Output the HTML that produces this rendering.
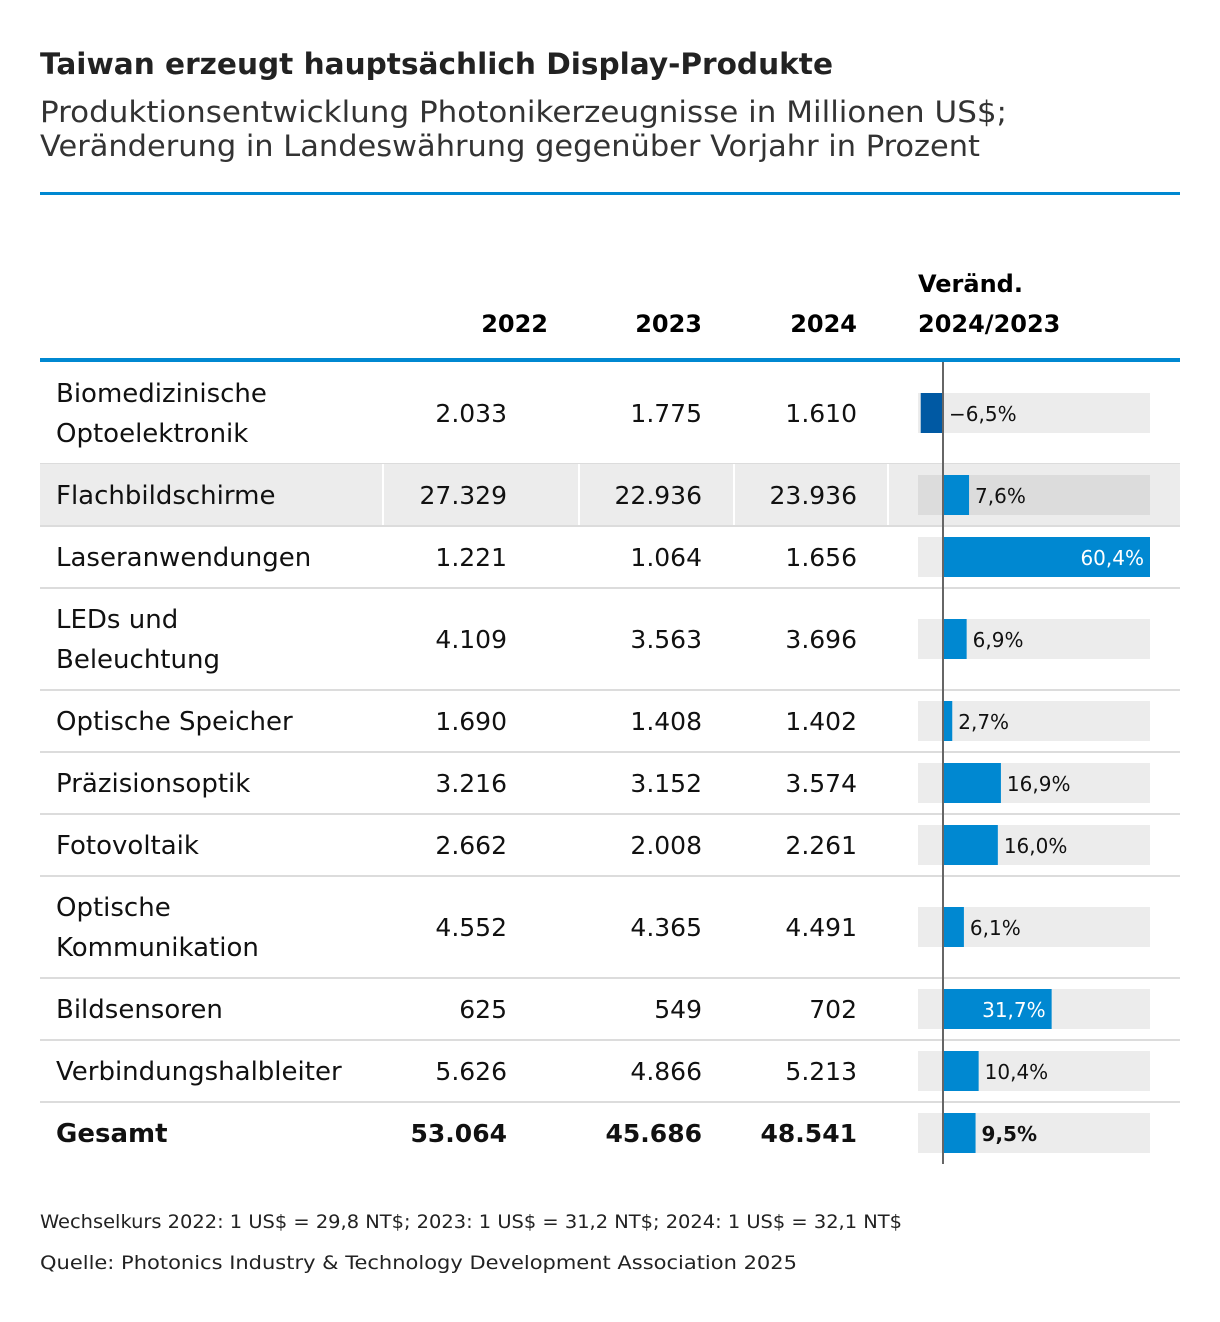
<!DOCTYPE html>
<html><head><meta charset="utf-8"><style>
body{margin:0;background:#fff;width:1220px;height:1318px;overflow:hidden;font-family:"DejaVu Sans",sans-serif}
svg text{font-family:"DejaVu Sans",sans-serif}
</style></head><body>
<svg id="c" width="1220" height="1318" xmlns="http://www.w3.org/2000/svg">
<text x="40" y="74" font-size="29" font-weight="bold" fill="#222" textLength="793" lengthAdjust="spacingAndGlyphs">Taiwan erzeugt hauptsächlich Display-Produkte</text>
<text x="40" y="122" font-size="29" fill="#333" textLength="967" lengthAdjust="spacingAndGlyphs">Produktionsentwicklung Photonikerzeugnisse in Millionen US$;</text>
<text x="40" y="156" font-size="29" fill="#333" textLength="940" lengthAdjust="spacingAndGlyphs">Veränderung in Landeswährung gegenüber Vorjahr in Prozent</text>
<rect x="40" y="192" width="1140" height="3" fill="#0088d1"/>
<text x="548" y="332" font-size="24" font-weight="bold" text-anchor="end">2022</text>
<text x="702" y="332" font-size="24" font-weight="bold" text-anchor="end">2023</text>
<text x="857" y="332" font-size="24" font-weight="bold" text-anchor="end">2024</text>
<text x="918" y="292" font-size="24" font-weight="bold">Veränd.</text>
<text x="918" y="332" font-size="24" font-weight="bold">2024/2023</text>
<rect x="40" y="358" width="1140" height="4" fill="#0088d1"/>
<g id="rows"></g>
<line x1="943" y1="362" x2="943" y2="1164" stroke="#666" stroke-width="2"/>
<text x="40" y="1228" font-size="19" fill="#222" textLength="862" lengthAdjust="spacingAndGlyphs">Wechselkurs 2022: 1 US$ = 29,8 NT$; 2023: 1 US$ = 31,2 NT$; 2024: 1 US$ = 32,1 NT$</text>
<text x="40" y="1269" font-size="19" fill="#222" textLength="757" lengthAdjust="spacingAndGlyphs">Quelle: Photonics Industry &amp; Technology Development Association 2025</text>
</svg>
<script>
const categories=[["Biomedizinische","Optoelektronik"],["Flachbildschirme"],["Laseranwendungen"],["LEDs und","Beleuchtung"],["Optische Speicher"],["Präzisionsoptik"],["Fotovoltaik"],["Optische","Kommunikation"],["Bildsensoren"],["Verbindungshalbleiter"],["Gesamt"]];
const v2022=["2.033","27.329","1.221","4.109","1.690","3.216","2.662","4.552","625","5.626","53.064"];
const v2023=["1.775","22.936","1.064","3.563","1.408","3.152","2.008","4.365","549","4.866","45.686"];
const v2024=["1.610","23.936","1.656","3.696","1.402","3.574","2.261","4.491","702","5.213","48.541"];
const change=[-6.5,7.6,60.4,6.9,2.7,16.9,16.0,6.1,31.7,10.4,9.5];
const NS="http://www.w3.org/2000/svg";
const g=document.getElementById('rows');
const x0=943,xMax=1150,maxV=60.4;
const xs=v=>x0+v*(xMax-x0)/maxV;
function el(t,a,txt){const e=document.createElementNS(NS,t);for(const k in a)e.setAttribute(k,a[k]);if(txt!=null)e.textContent=txt;g.appendChild(e);return e;}
let y=362;
categories.forEach((cat,i)=>{
 const h=cat.length>1?102:62;
 const bold=i===categories.length-1;
 const fw=bold?"bold":"normal";
 if(i===1){const r=el('rect',{x:40,y:y,width:1140,height:h,fill:"#ececec"});
  
  
  [382,578,733,887].forEach(sx=>{const l=el('rect',{x:sx,y:y,width:2,height:h,fill:"#fff"});
   
   });}
 const cy=y+h/2;
 cat.forEach((ln,j)=>{const t=el('text',{x:56,y:cy+9+(j-(cat.length-1)/2)*40,"font-size":26,"font-weight":fw,fill:"#111"},ln);
  
  });
 [[507,v2022],[702,v2023],[857,v2024]].forEach(([cx,arr])=>{const t=el('text',{x:cx,y:cy+9,"font-size":25,"font-weight":fw,"text-anchor":"end",fill:"#111"},arr[i]);
  
  });
 const bg=el('rect',{x:918,y:cy-20,width:232,height:40,fill:i===1?"#dcdcdc":"#ececec"});
 
 
 const v=change[i];const xa=Math.min(xs(v),xs(0)),xb=Math.max(xs(v),xs(0));
 const b=el('rect',{x:Math.max(918,xa),y:cy-20,width:xb-Math.max(918,xa),height:40,fill:v<0?"#0059a3":"#0088d1"});
 
 
 const lbl=(v<0?"\u2212":"")+Math.abs(v).toFixed(1).replace('.',',')+"%";
 const inside=v>25;
 const t=el('text',{x:inside?xb-6:(v<0?x0+6:xb+6),y:cy+8,"font-size":20,"font-weight":fw,"text-anchor":inside?"end":"start",fill:inside?"#fff":"#111"},lbl);
 
 
 y+=h;
 if(i<categories.length-1){const s=el('rect',{x:40,y:y-1,width:1140,height:2,fill:"#dcdcdc"});
  
  }
});
</script>
</body></html>
